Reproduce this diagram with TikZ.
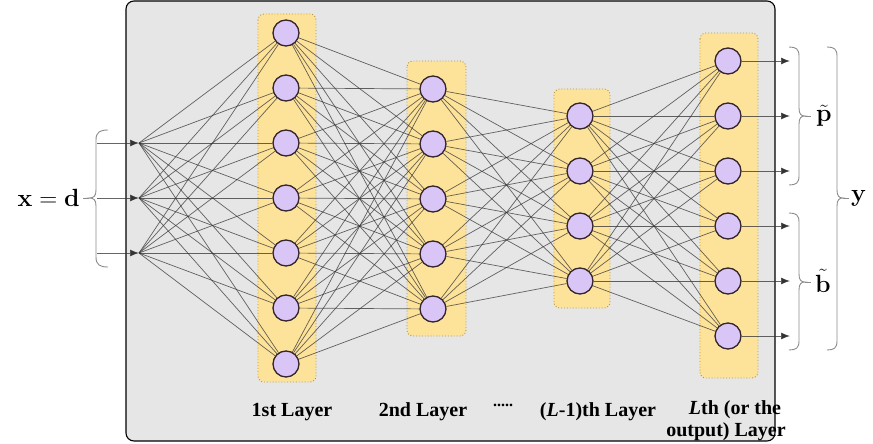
\documentclass[tikz,border=0pt]{standalone}
\usepackage[no-math]{fontspec}
\setmainfont{Liberation Serif}
\usetikzlibrary{arrows.meta}
\definecolor{bgc}{HTML}{E6E6E6}
\definecolor{boxf}{HTML}{FDE29A}
\definecolor{boxb}{HTML}{B8963A}
\definecolor{nodef}{HTML}{DAC6F6}
\definecolor{nodeb}{HTML}{33252B}
\definecolor{linec}{HTML}{333333}
\definecolor{bracec}{HTML}{8C8C8C}
\tikzset{
  bgbox/.style={draw=black, fill=bgc, rounded corners=8pt, line width=1.1pt},
  layerbox/.style={draw=boxb, fill=boxf, dotted, rounded corners=6pt, line width=0.9pt},
  neuron/.style={circle, draw=nodeb, fill=nodef, line width=1.3pt, minimum size=26pt, inner sep=0pt},
  conn/.style={draw=linec, draw opacity=0.75, line width=0.7pt},
  arr/.style={conn, -{Latex[length=9pt,width=7pt]}},
  brc/.style={draw=bracec, line width=0.9pt},
  lbl/.style={font=\fontsize{20}{21}\selectfont\bfseries, inner sep=0pt, anchor=base},
  mlbl/.style={font=\fontsize{27}{28}\selectfont, inner sep=0pt},
  slbl/.style={font=\fontsize{24}{25}\selectfont, inner sep=0pt},
}
\begin{document}
\begin{tikzpicture}[x=1pt,y=-1pt]
\useasboundingbox (0,0) rectangle (873,444);
% background
\draw[bgbox] (126,1) rectangle (775,441);
% layer boxes
\draw[layerbox] (258,14) rectangle (316,382);
\draw[layerbox] (407,61) rectangle (466,336);
\draw[layerbox] (554,89) rectangle (610,308);
\draw[layerbox] (700,33) rectangle (758,378);
% neurons
\foreach \i/\y in {1/33,2/88,3/143,4/198,5/253,6/308,7/364}
  \node[neuron] (a\i) at (286,\y) {};
\foreach \i/\y in {1/89,2/144,3/199,4/254,5/309}
  \node[neuron] (b\i) at (433,\y) {};
\foreach \i/\y in {1/116,2/171,3/226,4/281}
  \node[neuron] (c\i) at (580,\y) {};
\foreach \i/\y in {1/61,2/116,3/171,4/226,5/281,6/336}
  \node[neuron] (d\i) at (728,\y) {};
% inputs
\foreach \i/\y in {1/143,2/198,3/253} {
  \coordinate (s\i) at (97,\y);
  \coordinate (in\i) at (139,\y);
  \draw[arr] (s\i) -- (in\i);
}
\foreach \i in {1,2,3}
  \foreach \j in {1,...,7}
    \draw[conn] (in\i) -- (a\j);
\foreach \i in {1,...,7}
  \foreach \j in {1,...,5}
    \draw[conn] (a\i) -- (b\j);
\foreach \i in {1,...,5}
  \foreach \j in {1,...,4}
    \draw[conn] (b\i) -- (c\j);
\foreach \i in {1,...,4}
  \foreach \j in {1,...,6}
    \draw[conn] (c\i) -- (d\j);
% outputs
\foreach \i/\y in {1/61,2/116,3/171,4/226,5/281,6/336} {
  \coordinate (o\i) at (790,\y);
  \draw[arr] (d\i) -- (o\i);
}
% braces
\draw[brc] (108,130) .. controls (100,130) and (96,132) .. (96,140) -- (96,190)
  .. controls (96,196) and (94,198) .. (89,198) .. controls (94,198) and (96,200) .. (96,206)
  -- (96,257) .. controls (96,265) and (100,267) .. (108,267);
\draw[brc] (89,198) -- (83,198);
\draw[brc] (789,47) .. controls (796,47) and (799,49) .. (799,56) -- (799,108)
  .. controls (799,114) and (801,116) .. (805,116) .. controls (801,116) and (799,118) .. (799,124)
  -- (799,176) .. controls (799,183) and (796,185) .. (789,185);
\draw[brc] (805,116) -- (811,116);
\draw[brc] (789,213) .. controls (796,213) and (799,215) .. (799,222) -- (799,274)
  .. controls (799,280) and (801,282) .. (805,282) .. controls (801,282) and (799,284) .. (799,290)
  -- (799,341) .. controls (799,348) and (796,350) .. (789,350);
\draw[brc] (805,282) -- (811,282);
\draw[brc] (827,47) .. controls (834,47) and (837,49) .. (837,56) -- (837,190)
  .. controls (837,196) and (839,198) .. (843,198) .. controls (839,198) and (837,200) .. (837,206)
  -- (837,341) .. controls (837,348) and (834,350) .. (827,350);
\draw[brc] (843,198) -- (849,198);
% math labels
\node[mlbl, anchor=east] (xd) at (80,198) {$\mathbf{x}=\mathbf{d}$};
\node[slbl, anchor=west] (pt) at (816,116) {$\tilde{\mathbf{p}}$};
\node[slbl, anchor=west] (bt) at (815,281) {$\tilde{\mathbf{b}}$};
\node[mlbl, anchor=west] (yy) at (851,198) {$\mathbf{y}$};
% layer labels
\node[lbl] (t1) at (292,416) {1st Layer};
\node[lbl] (t2) at (423,416) {2nd Layer};
\node[font=\fontsize{16}{16}\selectfont\bfseries, inner sep=0pt] (dots) at (503,405) {.....};
\node[lbl] (t3) at (598,416) {(\textit{L}-1)th Layer};
\node[lbl] (t4) at (735,414) {\textit{L}th (or the};
\node[lbl] (t5) at (726,436) {output) Layer};
\end{tikzpicture}
\end{document}
